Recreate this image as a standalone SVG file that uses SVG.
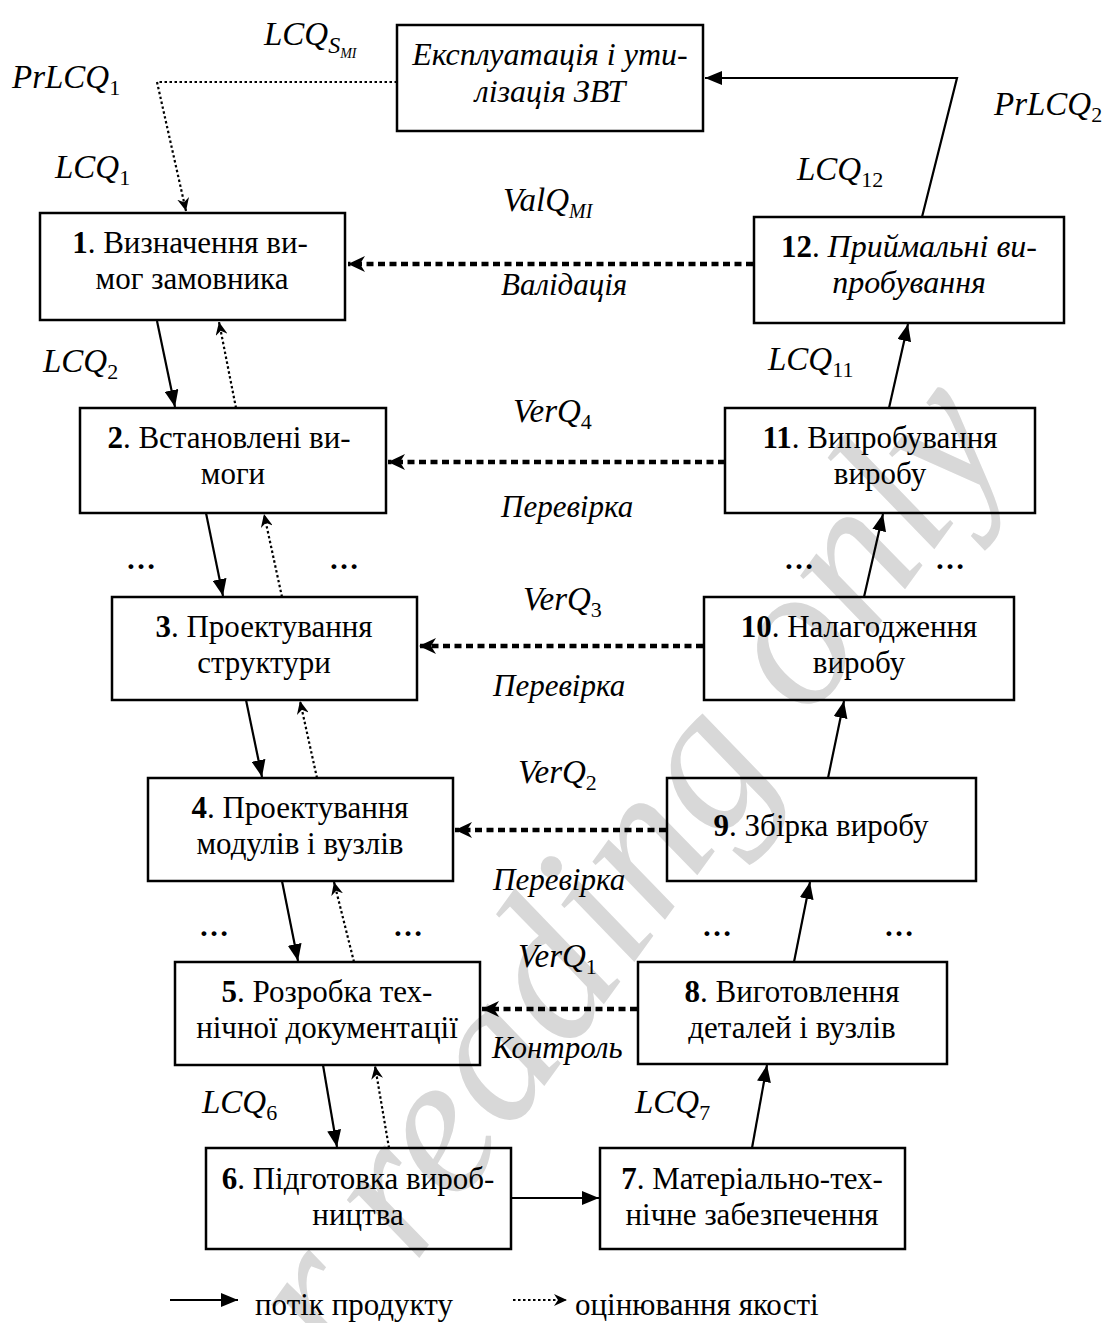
<svg xmlns="http://www.w3.org/2000/svg" width="1113" height="1323" viewBox="0 0 1113 1323">
<style>
text { font-family: "Liberation Serif", "Times New Roman", serif; fill: #000; }
.wm { font-size: 202px; font-style: italic; fill: #d8d8d8; }
.box { fill: none; stroke: #000; stroke-width: 2.5; }
.bt { font-size: 31px; text-anchor: middle; }
.bi { font-size: 32px; font-style: italic; text-anchor: middle; }
.it { font-style: italic; }
.b { font-weight: bold; }
.lbl { font-size: 33px; font-style: italic; }
.sub { font-size: 22px; font-style: normal; }
.cap { font-size: 31px; font-style: italic; }
.dots { font-size: 30px; font-weight: bold; text-anchor: middle; }
.pf { fill: none; stroke: #000; stroke-width: 2.2; }
.qt { fill: none; stroke: #000; stroke-width: 2.2; stroke-dasharray: 2.5 2.5; }
.qd { fill: none; stroke: #000; stroke-width: 4.5; stroke-dasharray: 7 4.5; }
</style>
<defs>
<marker id="tri" markerUnits="userSpaceOnUse" markerWidth="18" markerHeight="14" refX="17" refY="7" orient="auto"><path d="M0,0 L17,7 L0,14 z" fill="#000"/></marker>
<marker id="stl" markerUnits="userSpaceOnUse" markerWidth="14" markerHeight="12" refX="13" refY="6" orient="auto"><path d="M0,0 L13,6 L0,12 L4,6 z" fill="#000"/></marker>
<marker id="stb" markerUnits="userSpaceOnUse" markerWidth="18" markerHeight="16" refX="17" refY="8" orient="auto"><path d="M0,0 L17,8 L0,16 L5,8 z" fill="#000"/></marker>
</defs>

<text class="wm" x="630" y="968" text-anchor="middle" transform="rotate(-54 630 968)">for reading only</text>

<g id="connectors">
  <path class="qt" d="M397,82 H157 L186,211" marker-end="url(#stl)"/>
  <path class="pf" d="M922,217 L957,78 H705" marker-end="url(#tri)"/>
  <line class="qd" x1="753" y1="264" x2="348" y2="264" marker-end="url(#stb)"/>
  <line class="qd" x1="725" y1="462" x2="388" y2="462" marker-end="url(#stb)"/>
  <line class="qd" x1="703" y1="646" x2="419" y2="646" marker-end="url(#stb)"/>
  <line class="qd" x1="666" y1="830" x2="455" y2="830" marker-end="url(#stb)"/>
  <line class="qd" x1="637" y1="1009" x2="482" y2="1009" marker-end="url(#stb)"/>
  <line class="pf" x1="157" y1="321" x2="175" y2="407" marker-end="url(#tri)"/>
  <line class="qt" x1="236" y1="408" x2="219" y2="322" marker-end="url(#stl)"/>
  <line class="pf" x1="206" y1="513" x2="223" y2="596" marker-end="url(#tri)"/>
  <line class="qt" x1="282" y1="597" x2="264" y2="514" marker-end="url(#stl)"/>
  <line class="pf" x1="246" y1="700" x2="262" y2="777" marker-end="url(#tri)"/>
  <line class="qt" x1="317" y1="778" x2="300" y2="701" marker-end="url(#stl)"/>
  <line class="pf" x1="282" y1="881" x2="298" y2="961" marker-end="url(#tri)"/>
  <line class="qt" x1="354" y1="962" x2="334" y2="882" marker-end="url(#stl)"/>
  <line class="pf" x1="323" y1="1065" x2="337" y2="1147" marker-end="url(#tri)"/>
  <line class="qt" x1="389" y1="1148" x2="375" y2="1066" marker-end="url(#stl)"/>
  <line class="pf" x1="511" y1="1198" x2="599" y2="1198" marker-end="url(#tri)"/>
  <line class="pf" x1="752" y1="1148" x2="767" y2="1065" marker-end="url(#tri)"/>
  <line class="pf" x1="794" y1="962" x2="810" y2="882" marker-end="url(#tri)"/>
  <line class="pf" x1="828" y1="778" x2="844" y2="701" marker-end="url(#tri)"/>
  <line class="pf" x1="864" y1="597" x2="883" y2="514" marker-end="url(#tri)"/>
  <line class="pf" x1="889" y1="408" x2="908" y2="324" marker-end="url(#tri)"/>
</g>

<g id="labels">
  <text class="lbl" x="264" y="45">LCQ<tspan font-size="24" dy="8">S</tspan><tspan font-size="14" dy="5">MI</tspan></text>
  <text class="lbl" x="12" y="88">PrLCQ<tspan class="sub" dy="7">1</tspan></text>
  <text class="lbl" x="55" y="178">LCQ<tspan class="sub" dy="7">1</tspan></text>
  <text class="lbl" x="43" y="372">LCQ<tspan class="sub" dy="7">2</tspan></text>
  <text class="lbl" x="202" y="1113">LCQ<tspan class="sub" dy="7">6</tspan></text>
  <text class="lbl" x="635" y="1113">LCQ<tspan class="sub" dy="7">7</tspan></text>
  <text class="lbl" x="768" y="370">LCQ<tspan class="sub" dy="7">11</tspan></text>
  <text class="lbl" x="797" y="180">LCQ<tspan class="sub" dy="7">12</tspan></text>
  <text class="lbl" x="994" y="115">PrLCQ<tspan class="sub" dy="7">2</tspan></text>
  <text class="lbl" x="503" y="211">ValQ<tspan font-size="20" dy="7">MI</tspan></text>
  <text class="lbl" x="513" y="422">VerQ<tspan class="sub" dy="7">4</tspan></text>
  <text class="lbl" x="523" y="610">VerQ<tspan class="sub" dy="7">3</tspan></text>
  <text class="lbl" x="518" y="783">VerQ<tspan class="sub" dy="7">2</tspan></text>
  <text class="lbl" x="518" y="967">VerQ<tspan class="sub" dy="7">1</tspan></text>
  <text class="cap" x="501" y="295">Валідація</text>
  <text class="cap" x="501" y="517">Перевірка</text>
  <text class="cap" x="493" y="696">Перевірка</text>
  <text class="cap" x="493" y="890">Перевірка</text>
  <text class="cap" x="492" y="1058">Контроль</text>
  <text class="dots" x="141" y="569">…</text>
  <text class="dots" x="344" y="569">…</text>
  <text class="dots" x="214" y="936">…</text>
  <text class="dots" x="408" y="936">…</text>
  <text class="dots" x="799" y="569">…</text>
  <text class="dots" x="950" y="569">…</text>
  <text class="dots" x="717" y="936">…</text>
  <text class="dots" x="899" y="936">…</text>
</g>

<g id="node-expl">
  <rect class="box" x="397" y="25" width="306" height="106"/>
  <text class="bi" x="550" y="65">Експлуатація і ути-</text>
  <text class="bi" x="550" y="102">лізація ЗВТ</text>
</g>
<g id="node-1">
  <rect class="box" x="40" y="213" width="305" height="107"/>
  <text class="bt" x="190" y="253"><tspan class="b">1</tspan>. Визначення ви-</text>
  <text class="bt" x="192" y="289">мог замовника</text>
</g>
<g id="node-12">
  <rect class="box" x="754" y="217" width="310" height="106"/>
  <text class="bt" x="909" y="257"><tspan class="b">12</tspan>. <tspan class="it" font-size="32">Приймальні ви-</tspan></text>
  <text class="bi" x="909" y="293">пробування</text>
</g>
<g id="node-2">
  <rect class="box" x="80" y="408" width="306" height="105"/>
  <text class="bt" x="229" y="448"><tspan class="b">2</tspan>. Встановлені ви-</text>
  <text class="bt" x="233" y="484">моги</text>
</g>
<g id="node-11">
  <rect class="box" x="725" y="408" width="310" height="105"/>
  <text class="bt" x="880" y="448"><tspan class="b">11</tspan>. Випробування</text>
  <text class="bt" x="880" y="484">виробу</text>
</g>
<g id="node-3">
  <rect class="box" x="112" y="597" width="305" height="103"/>
  <text class="bt" x="264" y="637"><tspan class="b">3</tspan>. Проектування</text>
  <text class="bt" x="264" y="673">структури</text>
</g>
<g id="node-10">
  <rect class="box" x="704" y="597" width="310" height="103"/>
  <text class="bt" x="859" y="637"><tspan class="b">10</tspan>. Налагодження</text>
  <text class="bt" x="859" y="673">виробу</text>
</g>
<g id="node-4">
  <rect class="box" x="148" y="778" width="305" height="103"/>
  <text class="bt" x="300" y="818"><tspan class="b">4</tspan>. Проектування</text>
  <text class="bt" x="300" y="854">модулів і вузлів</text>
</g>
<g id="node-9">
  <rect class="box" x="667" y="778" width="309" height="103"/>
  <text class="bt" x="821" y="836"><tspan class="b">9</tspan>. Збірка виробу</text>
</g>
<g id="node-5">
  <rect class="box" x="175" y="962" width="305" height="103"/>
  <text class="bt" x="327" y="1002"><tspan class="b">5</tspan>. Розробка тех-</text>
  <text class="bt" x="327" y="1038">нічної документації</text>
</g>
<g id="node-8">
  <rect class="box" x="638" y="962" width="309" height="102"/>
  <text class="bt" x="792" y="1002"><tspan class="b">8</tspan>. Виготовлення</text>
  <text class="bt" x="792" y="1038">деталей і вузлів</text>
</g>
<g id="node-6">
  <rect class="box" x="206" y="1148" width="305" height="101"/>
  <text class="bt" x="358" y="1189"><tspan class="b">6</tspan>. Підготовка вироб-</text>
  <text class="bt" x="358" y="1225">ництва</text>
</g>
<g id="node-7">
  <rect class="box" x="600" y="1148" width="305" height="101"/>
  <text class="bt" x="752" y="1189"><tspan class="b">7</tspan>. Матеріально-тех-</text>
  <text class="bt" x="752" y="1225">нічне забезпечення</text>
</g>

<g id="legend">
  <line class="pf" x1="170" y1="1300" x2="238" y2="1300" marker-end="url(#tri)"/>
  <text x="255" y="1315" font-size="31">потік продукту</text>
  <line class="qt" x1="513" y1="1300" x2="567" y2="1300" stroke-width="1.8" stroke-dasharray="2 1.5" marker-end="url(#stl)"/>
  <text x="575" y="1315" font-size="31">оцінювання якості</text>
</g>
</svg>
